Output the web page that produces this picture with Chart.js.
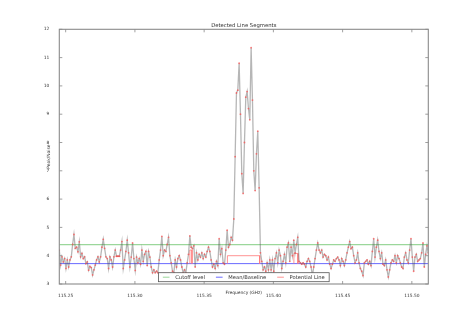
<!DOCTYPE html>
<html>
<head>
<meta charset="utf-8">
<script src="https://cdn.jsdelivr.net/npm/chart.js@4.4.1/dist/chart.umd.min.js"></script>
<style>
    html, body { margin: 0; padding: 0; background: #fff; }
    #wrap { width: 475px; height: 316px; }
</style>
</head>
<body>
<div id="wrap"><canvas id="segmentsChart" width="475" height="316"></canvas></div>
<script>
// spectrum channel grid (GHz)
const FREQ_START = 115.2454;
const FREQ_STEP = 0.000962;

// peak/noise per channel
const snr = [
    4.2, 3.67, 3.96, 3.78, 3.9, 3.55, 3.85, 3.6, 3.85, 3.96,
    4.4, 4.75, 4.26, 4.3, 4.14, 4.49, 3.96, 4.08, 3.9, 3.96,
    3.72, 3.78, 3.49, 3.62, 3.58, 3.32, 3.5, 3.67, 3.85, 3.96,
    3.78, 3.96, 4.3, 4.58, 4.26, 3.96, 3.9, 3.55, 3.96, 3.85,
    3.6, 3.96, 4.2, 3.98, 3.98, 3.98, 4.2, 4.5,
    3.55, 3.85, 4.15, 4.55, 4.1, 3.6, 3.95, 4.45, 3.9, 3.48,
    3.95, 3.75, 3.9, 3.7, 4.2, 3.8, 4.05, 4.15, 3.65, 4.15,
    3.95, 3.6, 3.4, 3.5, 3.4, 3.45, 3.4, 3.85, 4.2, 4.68,
    4.0, 4.2, 4.15, 4.4, 4.65, 4.0, 3.75, 3.45, 3.4, 3.85,
    3.6, 3.9, 4.0, 3.85, 3.6, 3.4, 3.5,
    3.4, 3.75, 4.05, 4.7, 4.3, 4.25, 4.35, 3.6, 4.1, 3.85,
    4.05, 3.95, 4.1, 3.9, 4.05, 3.95, 4.15, 4.3, 4.15, 3.85,
    3.6, 3.7, 3.55, 3.8, 3.65, 4.6, 4.05, 4.25, 3.75, 3.7,
    4.2, 4.9, 4.3, 4.4, 4.65,
    4.55, 5.3, 7.5, 9.75, 9.85, 10.8, 9.0, 6.9, 6.2, 8.0,
    9.6, 9.8, 9.2, 8.8, 11.35, 9.5, 7.0, 6.3, 7.6, 8.4, 6.4, 4.1,
    3.8, 3.5, 3.6, 3.45, 3.75, 3.5, 3.85, 3.5, 3.85, 3.45,
    3.9, 4.1, 3.75, 4.2, 4.0, 3.55, 3.8, 4.05, 3.75, 4.3,
    4.45, 3.8, 4.3, 4.0, 4.55, 4.1, 4.4, 4.65, 3.8, 3.75,
    3.7, 3.75, 3.7, 3.6, 3.8, 3.9, 3.8, 3.6, 3.3, 3.6,
    3.9, 4.2, 4.45, 4.2, 4.1, 4.2, 3.95, 4.05, 4.0, 3.85,
    3.95, 3.7, 3.55, 3.7, 3.85, 3.8, 3.9, 3.95, 3.85, 3.65,
    3.9, 3.8, 3.65, 3.85,
    4.1, 4.3, 4.5, 4.25, 4.3, 4.0, 3.75, 3.85, 4.1, 3.75,
    3.55, 3.45, 3.3, 3.75, 3.8, 3.85, 3.7, 3.8, 3.65, 4.15,
    4.6, 3.95, 4.3, 4.55, 4.15, 3.9, 4.1, 3.7, 3.65, 3.85,
    3.5, 3.25, 3.5, 3.75, 3.85, 3.8, 4.0, 3.75, 4.0, 3.9,
    3.75, 3.6, 3.55, 3.95, 4.1, 3.85, 3.75, 4.2, 4.6, 3.95,
    3.45, 3.95, 4.05, 3.8, 3.85, 3.9, 4.1, 4.45, 3.6, 4.05, 4.35, 4.1
];

const cutoffLevel = 4.39;
const baselineLevel = 3.72;

// potential line segments: start GHz, end GHz, level
const segStart = [115.2860, 115.3397, 115.3668, 115.4148];
const segEnd   = [115.2896, 115.3412, 115.3901, 115.4177];
const segLevel = [3.98, 4.2, 4.0, 4.08];

const xTicks = [115.25, 115.30, 115.35, 115.40, 115.45, 115.50];
const yTicks = [3, 4, 5, 6, 7, 8, 9, 10, 11, 12];

const freqs = snr.map((_, i) => FREQ_START + i * FREQ_STEP);
const xMin = freqs[0];
const xMax = freqs[freqs.length - 1];

const spectrumPts = freqs.map((f, i) => ({ x: f, y: snr[i] }));

const potentialPts = [];
segStart.forEach((s, k) => {
    const e = segEnd[k];
    const lv = segLevel[k];
    if (k === 0) {
        potentialPts.push({ x: s, y: lv }, { x: e, y: lv });
    } else {
        potentialPts.push({ x: s, y: baselineLevel }, { x: s, y: lv }, { x: e, y: lv }, { x: e, y: baselineLevel });
    }
    potentialPts.push({ x: e, y: null });
});

const FONT = 'DejaVu Sans';
const TEXT = '#333';

const framePlugin = {
    id: 'frameAndLegend',
    afterDraw(chart) {
        const ctx = chart.ctx;
        const a = chart.chartArea;
        const xs = chart.scales.x;
        const ys = chart.scales.y;
        ctx.save();

        // inner tick marks on all four sides
        ctx.strokeStyle = '#888';
        ctx.lineWidth = 0.8;
        ctx.beginPath();
        xTicks.forEach(v => {
            const p = xs.getPixelForValue(v);
            ctx.moveTo(p, a.bottom); ctx.lineTo(p, a.bottom - 3);
            ctx.moveTo(p, a.top); ctx.lineTo(p, a.top + 3);
        });
        yTicks.forEach(v => {
            const p = ys.getPixelForValue(v);
            ctx.moveTo(a.left, p); ctx.lineTo(a.left + 3, p);
            ctx.moveTo(a.right, p); ctx.lineTo(a.right - 3, p);
        });
        ctx.stroke();

        // legend box inside the bottom of the plot
        const items = chart.data.datasets.filter(d => d.legendLabel);
        ctx.font = '5.2px "' + FONT + '"';
        const handle = 6.7, handleGap = 5.7, colGap = 11, pad = 4.4;
        let w = pad * 2;
        items.forEach((d, i) => {
            w += handle + handleGap + ctx.measureText(d.legendLabel).width;
            if (i < items.length - 1) w += colGap;
        });
        const cx = (a.left + a.right) / 2;
        const bx = cx - w / 2;
        const by = 272.7, bh = 9;
        ctx.fillStyle = '#fff';
        ctx.fillRect(bx, by, w, bh);
        ctx.strokeStyle = '#555';
        ctx.lineWidth = 0.8;
        ctx.strokeRect(bx, by, w, bh);
        let x = bx + pad;
        const ly = by + bh / 2;
        items.forEach(d => {
            ctx.strokeStyle = d.borderColor;
            ctx.lineWidth = 1;
            ctx.beginPath();
            ctx.moveTo(x, ly); ctx.lineTo(x + handle, ly);
            ctx.stroke();
            x += handle + handleGap;
            ctx.fillStyle = TEXT;
            ctx.textBaseline = 'middle';
            ctx.textAlign = 'left';
            ctx.fillText(d.legendLabel, x, ly + 0.3);
            x += ctx.measureText(d.legendLabel).width + colGap;
        });

        // axes frame
        ctx.strokeStyle = '#8a8a8a';
        ctx.lineWidth = 1.1;
        ctx.strokeRect(a.left, a.top, a.right - a.left, a.bottom - a.top);

        // title and axis titles
        ctx.fillStyle = TEXT;
        ctx.textAlign = 'center';
        ctx.textBaseline = 'middle';
        ctx.font = '5.3px "' + FONT + '"';
        ctx.fillText('Detected Line Segments', cx, 25.7);
        ctx.font = '4.4px "' + FONT + '"';
        ctx.fillText('Frequency (GHz)', cx, 292.8);
        ctx.translate(49, (a.top + a.bottom) / 2);
        ctx.rotate(-Math.PI / 2);
        ctx.fillText('Peak/Noise', 0, 0);
        ctx.restore();
    }
};

new Chart(document.getElementById('segmentsChart').getContext('2d'), {
    type: 'line',
    data: {
        datasets: [
            {
                legendLabel: 'Cutoff level',
                data: [{ x: xMin, y: cutoffLevel }, { x: xMax, y: cutoffLevel }],
                borderColor: 'rgba(130,205,130,0.8)',
                borderWidth: 1.4,
                pointRadius: 0,
                order: 3
            },
            {
                legendLabel: 'Mean/Baseline',
                data: [{ x: xMin, y: baselineLevel }, { x: xMax, y: baselineLevel }],
                borderColor: 'rgba(80,80,255,0.85)',
                borderWidth: 1,
                pointRadius: 0,
                order: 2
            },
            {
                legendLabel: 'Potential Line',
                data: potentialPts,
                borderColor: 'rgba(255,120,120,0.8)',
                borderWidth: 1,
                pointRadius: 0,
                spanGaps: false,
                order: 1
            },
            {
                data: spectrumPts,
                borderColor: 'rgba(80,80,80,0.42)',
                borderWidth: 1.3,
                pointRadius: 0.9,
                pointBorderWidth: 0,
                pointBackgroundColor: 'rgba(250,80,80,0.75)',
                order: 0
            }
        ]
    },
    options: {
        responsive: false,
        animation: false,
        events: [],
        layout: { padding: { left: 0, right: 46.7, top: 29.3, bottom: 0 } },
        plugins: {
            legend: { display: false },
            tooltip: { enabled: false }
        },
        elements: { line: { tension: 0 } },
        scales: {
            x: {
                type: 'linear',
                min: xMin,
                max: xMax,
                afterBuildTicks: s => { s.ticks = xTicks.map(v => ({ value: v })); },
                afterFit: s => { s.height = 32; },
                grid: { display: false },
                border: { display: false },
                ticks: {
                    color: TEXT,
                    font: { family: FONT, size: 4.4 },
                    padding: 1.6,
                    maxRotation: 0,
                    autoSkip: false,
                    callback: v => Number(v).toFixed(2)
                }
            },
            y: {
                min: 3,
                max: 12,
                afterBuildTicks: s => { s.ticks = yTicks.map(v => ({ value: v })); },
                afterFit: s => { s.width = 59.3; },
                grid: { display: false },
                border: { display: false },
                ticks: {
                    color: TEXT,
                    font: { family: FONT, size: 4.4 },
                    padding: 2
                }
            }
        }
    },
    plugins: [framePlugin]
});
</script>
</body>
</html>
